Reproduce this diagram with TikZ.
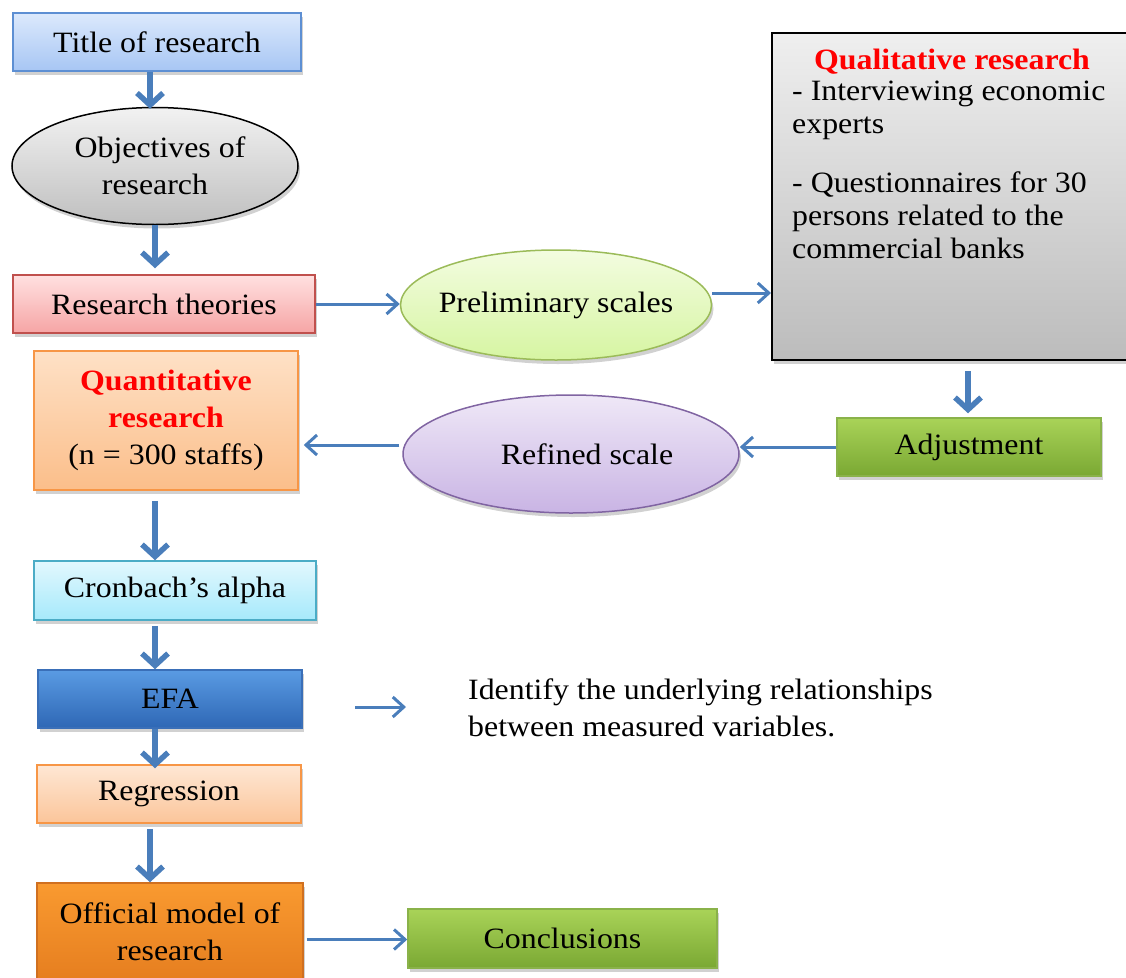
\documentclass[tikz,border=0pt]{standalone}
\usepackage{fontspec}
\setmainfont{Liberation Serif}[FakeStretch=1.08]
\usetikzlibrary{shapes.geometric,arrows.meta,shadows}
\definecolor{arrowblue}{HTML}{4A7EBB}
\definecolor{qred}{HTML}{FF0000}
\definecolor{titleT}{HTML}{DCE9FC}\definecolor{titleB}{HTML}{A7C6F4}\definecolor{titleD}{HTML}{5D8FD3}
\definecolor{objT}{HTML}{F2F2F2}\definecolor{objB}{HTML}{BFBFBF}
\definecolor{theoT}{HTML}{FFE0E0}\definecolor{theoB}{HTML}{F6A5A5}\definecolor{theoD}{HTML}{C0504D}
\definecolor{preT}{HTML}{F3FCE0}\definecolor{preB}{HTML}{D6F5A2}\definecolor{preD}{HTML}{9BBB59}
\definecolor{qualT}{HTML}{EFEFEF}\definecolor{qualB}{HTML}{BCBCBC}
\definecolor{grnT}{HTML}{A9D358}\definecolor{grnB}{HTML}{7AA833}\definecolor{grnD}{HTML}{8AB24A}
\definecolor{refT}{HTML}{EFE8F7}\definecolor{refB}{HTML}{C9B4E4}\definecolor{refD}{HTML}{8064A2}
\definecolor{orlT}{HTML}{FEE1C6}\definecolor{orlB}{HTML}{FBBE8A}\definecolor{orlD}{HTML}{F79646}
\definecolor{cyaT}{HTML}{E2F8FE}\definecolor{cyaB}{HTML}{A6E9FB}\definecolor{cyaD}{HTML}{4BACC6}
\definecolor{efaT}{HTML}{5A9BE3}\definecolor{efaB}{HTML}{2E67B5}\definecolor{efaD}{HTML}{3A6FB8}
\definecolor{regT}{HTML}{FEE7D4}\definecolor{regB}{HTML}{FBC59A}
\definecolor{offT}{HTML}{F99A30}\definecolor{offB}{HTML}{E37A1D}\definecolor{offD}{HTML}{D07020}
\tikzset{
  shad/.style={drop shadow={shadow xshift=2pt,shadow yshift=-4pt,opacity=0.3,fill=black!60}},
  box/.style={rectangle, draw, line width=1.5pt, minimum height=58, inner sep=2pt, align=center, shad},
  oval/.style={ellipse, draw, line width=1.5pt, inner sep=0pt, align=center, shad},
  varrow/.style={draw=arrowblue, line width=5.5pt, -{Straight Barb[length=12pt,width=26pt]}},
  harrow/.style={draw=arrowblue, line width=3pt, -{Straight Barb[length=11pt,width=20pt]}},
  plain/.style={inner sep=0pt, align=left},
}
\begin{document}
\begin{tikzpicture}[x=1pt,y=-1pt,font=\fontsize{29.5}{37}\selectfont]
\useasboundingbox (0,0) rectangle (1126,977);

% left column
\node[box, minimum width=288, top color=titleT, bottom color=titleB, draw=titleD] (title) at (157,42) {Title of research};
\node[oval, minimum width=286, minimum height=117, top color=objT, bottom color=objB, draw=black] (obj) at (155,166) {\hspace*{10pt}Objectives of\\research};
\node[box, minimum width=302, top color=theoT, bottom color=theoB, draw=theoD] (theo) at (164,304) {Research theories};
\node[box, minimum width=264, minimum height=139, top color=orlT, bottom color=orlB, draw=orlD] (quant) at (166,420.5)
  {\textcolor{qred}{\textbf{Quantitative}}\\\textcolor{qred}{\textbf{research}}\\(n = 300 staffs)};
\node[box, minimum width=282, minimum height=59, top color=cyaT, bottom color=cyaB, draw=cyaD] (cron) at (175,590.5) {Cronbach’s alpha};
\node[box, minimum width=264, top color=efaT, bottom color=efaB, draw=efaD] (efa) at (170,699) {EFA};
\node[box, minimum width=264, top color=regT, bottom color=regB, draw=orlD] (reg) at (169,794) {Regression};
\node[box, minimum width=266, minimum height=112, top color=offT, bottom color=offB, draw=offD, text depth=14pt] (off) at (170,939) {Official model of\\research};

% middle
\node[oval, minimum width=311, minimum height=110, inner xsep=-8pt, top color=preT, bottom color=preB, draw=preD] (pre) at (556,305) {Preliminary scales};
\node[oval, minimum width=336, minimum height=118, top color=refT, bottom color=refB, draw=refD] (ref) at (571,454) {\hspace*{32pt}Refined scale};
\node[box, minimum width=309, minimum height=59, top color=grnT, bottom color=grnB, draw=grnD] (concl) at (562.5,938.5) {Conclusions};
\node[plain, anchor=base west] (ident) at (468,736) {Identify the underlying relationships\\between measured variables.};

% right
\node[rectangle, draw=black, line width=2pt, minimum width=360, minimum height=327, top color=qualT, bottom color=qualB, shad] (qual) at (952,196.5) {};
\node[inner sep=0pt, anchor=base, text=qred, font=\fontsize{29.5}{37}\selectfont\bfseries] (qualtitle) at (952,69) {Qualitative research};
\node[plain, anchor=base west, font=\fontsize{29.5}{33}\selectfont] (qualtext) at (792,258)
  {- Interviewing economic\\experts\\[26pt]- Questionnaires for 30\\persons related to the\\commercial banks};
\node[box, minimum width=264, top color=grnT, bottom color=grnB, draw=grnD] (adj) at (969,447) {Adjustment};

% connectors
\draw[varrow] ([xshift=-7pt]title.south) -- ([xshift=-5pt,yshift=-2pt]obj.north);
\draw[varrow] (obj.south) -- ([xshift=-9pt,yshift=6pt]theo.north);
\draw[harrow] (theo.east) -- (theo.east -| pre.west);
\draw[harrow] ([yshift=12pt]pre.east) -- ([yshift=12pt]pre.east -| qual.west);
\draw[varrow, shorten <=10pt] ([xshift=16pt]qual.south) -- ([xshift=-1pt,yshift=4pt]adj.north);
\draw[harrow] (adj.west) -- (adj.west -| ref.east);
\draw[harrow, shorten <=3pt, shorten >=5pt] ([yshift=9pt]ref.west) -- ([yshift=9pt]ref.west -| quant.east);
\draw[varrow, shorten <=10pt] ([xshift=-11pt]quant.south) -- ([xshift=-20pt]cron.north);
\draw[varrow, shorten <=5pt] ([xshift=-20pt]cron.south) -- ([xshift=-15pt]efa.north);
\draw[varrow] ([xshift=-15pt]efa.south) -- ([xshift=-14pt,yshift=-4pt]reg.north);
\draw[varrow, shorten <=5pt] ([xshift=-19pt]reg.south) -- ([xshift=-20pt]off.north);
\coordinate (efaA) at (355,707);
\coordinate (efaB) at (406,707);
\draw[harrow] (efaA) -- (efaB);
\draw[harrow, shorten <=3pt] ([yshift=-0.5pt]off.east) -- ([yshift=-0.5pt]off.east -| concl.west);
\end{tikzpicture}
\end{document}
